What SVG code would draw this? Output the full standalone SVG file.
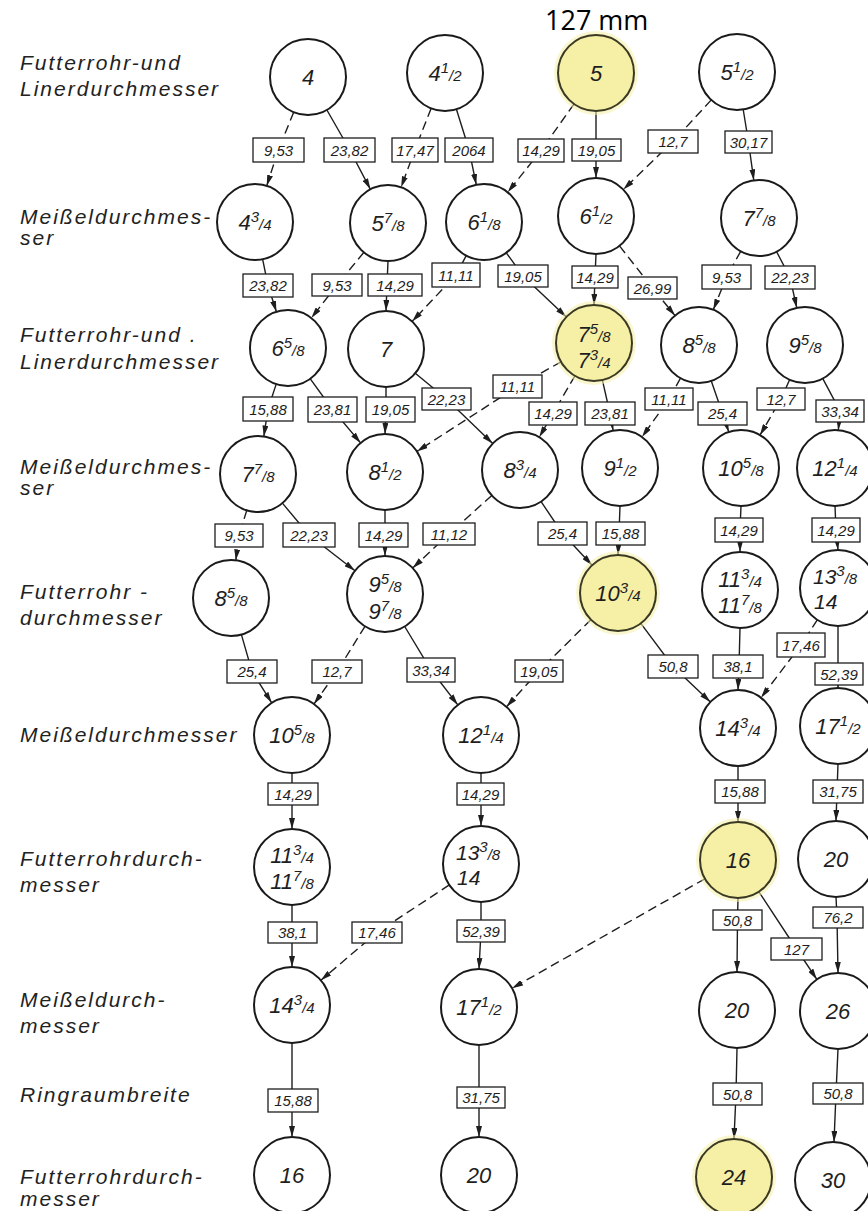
<svg xmlns="http://www.w3.org/2000/svg" width="868" height="1211" viewBox="0 0 868 1211">
<style>
.c{fill:#fff;stroke:#1a1a1a;stroke-width:2}
.cy{fill:#f6efa6;stroke:#3a3a22;stroke-width:2}
.glow{fill:#f6efa6;opacity:.55}
.nt{font-family:"Liberation Sans",Arial,sans-serif;font-style:italic;font-size:22px;fill:#1e1e1e;text-anchor:middle}
.nl{font-family:"Liberation Sans",Arial,sans-serif;font-style:italic;font-size:21px;fill:#1e1e1e}
.fn{font-size:15px}
.ln{fill:none;stroke:#1e1e1e;stroke-width:1.4;marker-end:url(#ah)}
.d{stroke-dasharray:9 5}
.bx{fill:#fff;stroke:#1e1e1e;stroke-width:1.3}
.bt{font-family:"Liberation Sans",Arial,sans-serif;font-style:italic;font-size:15px;fill:#1e1e1e;text-anchor:middle}
.lb{font-family:"Liberation Sans",Arial,sans-serif;font-style:italic;font-size:21px;fill:#222;letter-spacing:2px}
.top{font-family:"Open Sans","Liberation Sans",Arial,sans-serif;font-size:27px;fill:#000}
</style>
<defs>
<marker id="ah" viewBox="0 0 11 6" refX="11" refY="3" markerWidth="11" markerHeight="6" markerUnits="userSpaceOnUse" orient="auto"><path d="M0,0 L11,3 L0,6 z" fill="#1e1e1e"/></marker>
</defs>
<rect width="868" height="1211" fill="#fff"/>
<text class="top" x="545" y="30">127 mm</text>

<g id="row-labels">
<text class="lb" x="20" y="70">Futterrohr-und</text>
<text class="lb" x="20" y="96">Linerdurchmesser</text>
<text class="lb" x="20" y="224">Meißeldurchmes-</text>
<text class="lb" x="20" y="245">ser</text>
<text class="lb" x="20" y="342">Futterrohr-und .</text>
<text class="lb" x="20" y="369">Linerdurchmesser</text>
<text class="lb" x="20" y="474">Meißeldurchmes-</text>
<text class="lb" x="20" y="495">ser</text>
<text class="lb" x="20" y="599">Futterrohr -</text>
<text class="lb" x="20" y="625">durchmesser</text>
<text class="lb" x="20" y="742">Meißeldurchmesser</text>
<text class="lb" x="20" y="866">Futterrohrdurch-</text>
<text class="lb" x="20" y="892">messer</text>
<text class="lb" x="20" y="1007">Meißeldurch-</text>
<text class="lb" x="20" y="1033">messer</text>
<text class="lb" x="20" y="1102">Ringraumbreite</text>
<text class="lb" x="20" y="1184">Futterrohrdurch-</text>
<text class="lb" x="20" y="1206">messer</text>
</g>

<g id="connectors">
<path class="ln d" d="M293.7 112.2 L278.5 149.5 L266.7 185.9"/>
<path class="ln" d="M326.9 110 L349.5 149.5 L370.4 189.3"/>
<path class="ln d" d="M431.1 108.4 L415 149.5 L401.1 187.3"/>
<path class="ln" d="M456.4 109.3 L469 149.5 L476.3 184.8"/>
<path class="ln d" d="M574 104 L541 150.5 L507.7 192.3"/>
<path class="ln" d="M596 111 L596 178"/>
<path class="ln d" d="M711.3 99.9 L673 141.5 L623.3 189.6"/>
<path class="ln" d="M743.2 109.5 L748.5 142 L753.8 180.3"/>
<path class="ln" d="M262.6 259.2 L268 285.5 L276.4 311.8"/>
<path class="ln d" d="M363.9 252.3 L337 285 L311.3 318"/>
<path class="ln" d="M388 261 L387 285 L386 311"/>
<path class="ln d" d="M466.2 255.6 L456 275 L412.1 321.4"/>
<path class="ln" d="M506.3 252.8 L523 276 L566.4 316.9"/>
<path class="ln" d="M596 254 L595 277 L594 305"/>
<path class="ln d" d="M619.5 245.9 L652.5 288 L675 315.6"/>
<path class="ln d" d="M740.7 251.3 L726.5 277 L713.3 309.8"/>
<path class="ln" d="M776.6 251.7 L790 277.5 L796.8 307.9"/>
<path class="ln" d="M276.2 384.1 L268 409 L263.8 436.5"/>
<path class="ln" d="M310.3 378.8 L332.5 409.5 L360.6 442.9"/>
<path class="ln" d="M386 387 L386 409.5 L385 434"/>
<path class="ln" d="M415.3 373.2 L446.5 399 L492.7 443.6"/>
<path class="ln d" d="M561 361.8 L517.5 386.5 L416.9 451.4"/>
<path class="ln d" d="M574.9 375.8 L553 413.5 L539.2 437.2"/>
<path class="ln" d="M602.4 380.1 L610 413.5 L613.1 430.6"/>
<path class="ln d" d="M680.5 378.2 L669 399 L642 437"/>
<path class="ln" d="M711.3 381 L722.5 413.5 L728.8 432.1"/>
<path class="ln d" d="M789.6 379.7 L781 399 L760 435.1"/>
<path class="ln" d="M822.8 378.6 L840 411 L838.3 430.2"/>
<path class="ln d" d="M246.8 510.3 L239 535.5 L235.8 560.3"/>
<path class="ln" d="M282.4 503.1 L309 535 L355 570.7"/>
<path class="ln" d="M385 510 L385 535 L385 556"/>
<path class="ln d" d="M491.8 495.4 L449 534 L412.7 568"/>
<path class="ln" d="M541.1 501.6 L562.5 533.5 L592.1 565.2"/>
<path class="ln" d="M620 506 L619 533.5 L618 555"/>
<path class="ln" d="M741 506 L740 530 L740 552"/>
<path class="ln" d="M835 506 L836 530 L838 550"/>
<path class="ln" d="M241.4 634.6 L252 671.5 L271.7 702.8"/>
<path class="ln d" d="M365 626.3 L337 671.5 L314 704"/>
<path class="ln" d="M404.7 626.5 L431 670 L457.8 704.9"/>
<path class="ln d" d="M590.9 619.7 L539 671 L506.5 706.8"/>
<path class="ln" d="M640.8 623.4 L673 666.5 L710.4 701.9"/>
<path class="ln" d="M740 628 L739 666.5 L738 690"/>
<path class="ln d" d="M817.3 619.8 L801 645 L761 697.7"/>
<path class="ln" d="M838 626 L838 674 L838 688"/>
<path class="ln" d="M292 773 L292 829"/>
<path class="ln" d="M481 773 L481 826"/>
<path class="ln" d="M738 766 L738 822"/>
<path class="ln" d="M838 764 L837 791.5 L836 821"/>
<path class="ln" d="M292 905 L292 967"/>
<path class="ln d" d="M449.3 884.9 L377 932.5 L320.9 980.3"/>
<path class="ln" d="M481 902 L481 931 L479 969"/>
<path class="ln d" d="M704.9 878.8 L512.1 988.2"/>
<path class="ln" d="M738 898 L737.5 920 L737 972"/>
<path class="ln" d="M758.9 891.8 L796.5 949 L816.9 979.4"/>
<path class="ln" d="M836 897 L837 917.5 L838 973"/>
<path class="ln" d="M292 1043 L292 1137"/>
<path class="ln" d="M479 1045 L479 1137"/>
<path class="ln" d="M737 1048 L736 1094 L734 1139"/>
<path class="ln" d="M838 1049 L836 1093.5 L834 1142"/>
</g>

<g id="connector-labels">
<rect class="bx" x="253" y="138" width="51" height="24"/><text class="bt" x="278.5" y="155.5">9,53</text>
<rect class="bx" x="324" y="138" width="51" height="24"/><text class="bt" x="349.5" y="155.5">23,82</text>
<rect class="bx" x="392" y="138" width="46" height="24"/><text class="bt" x="415" y="155.5">17,47</text>
<rect class="bx" x="445" y="138" width="48" height="24"/><text class="bt" x="469" y="155.5">2064</text>
<rect class="bx" x="518" y="139" width="46" height="23"/><text class="bt" x="541" y="156">14,29</text>
<rect class="bx" x="572" y="139" width="49" height="22"/><text class="bt" x="596.5" y="155.5">19,05</text>
<rect class="bx" x="648" y="130" width="50" height="23"/><text class="bt" x="673" y="147">12,7</text>
<rect class="bx" x="725" y="131" width="47" height="22"/><text class="bt" x="748.5" y="147.5">30,17</text>

<rect class="bx" x="243" y="274" width="50" height="23"/><text class="bt" x="268" y="291">23,82</text>
<rect class="bx" x="312" y="274" width="50" height="22"/><text class="bt" x="337" y="290.5">9,53</text>
<rect class="bx" x="368" y="274" width="54" height="22"/><text class="bt" x="395" y="290.5">14,29</text>
<rect class="bx" x="432" y="263" width="48" height="24"/><text class="bt" x="456" y="280.5">11,11</text>
<rect class="bx" x="498" y="265" width="50" height="22"/><text class="bt" x="523" y="281.5">19,05</text>
<rect class="bx" x="572" y="266" width="46" height="22"/><text class="bt" x="595" y="282.5">14,29</text>
<rect class="bx" x="628" y="277" width="49" height="22"/><text class="bt" x="652.5" y="293.5">26,99</text>
<rect class="bx" x="702" y="265" width="49" height="24"/><text class="bt" x="726.5" y="282.5">9,53</text>
<rect class="bx" x="765" y="266" width="50" height="23"/><text class="bt" x="790" y="283">22,23</text>

<rect class="bx" x="243" y="397" width="50" height="24"/><text class="bt" x="268" y="414.5">15,88</text>
<rect class="bx" x="308" y="397" width="49" height="25"/><text class="bt" x="332.5" y="415">23,81</text>
<rect class="bx" x="366" y="397" width="49" height="25"/><text class="bt" x="390.5" y="415">19,05</text>
<rect class="bx" x="422" y="388" width="49" height="22"/><text class="bt" x="446.5" y="404.5">22,23</text>
<rect class="bx" x="493" y="375" width="49" height="23"/><text class="bt" x="517.5" y="392">11,11</text>
<rect class="bx" x="529" y="402" width="48" height="23"/><text class="bt" x="553" y="419">14,29</text>
<rect class="bx" x="585" y="402" width="50" height="23"/><text class="bt" x="610" y="419">23,81</text>
<rect class="bx" x="645" y="388" width="48" height="22"/><text class="bt" x="669" y="404.5">11,11</text>
<rect class="bx" x="698" y="402" width="49" height="23"/><text class="bt" x="722.5" y="419">25,4</text>
<rect class="bx" x="757" y="388" width="48" height="22"/><text class="bt" x="781" y="404.5">12,7</text>
<rect class="bx" x="816" y="400" width="48" height="22"/><text class="bt" x="840" y="416.5">33,34</text>

<rect class="bx" x="215" y="524" width="48" height="23"/><text class="bt" x="239" y="541">9,53</text>
<rect class="bx" x="283" y="523" width="52" height="24"/><text class="bt" x="309" y="540.5">22,23</text>
<rect class="bx" x="359" y="523" width="49" height="24"/><text class="bt" x="383.5" y="540.5">14,29</text>
<rect class="bx" x="423" y="523" width="52" height="22"/><text class="bt" x="449" y="539.5">11,12</text>
<rect class="bx" x="538" y="522" width="49" height="23"/><text class="bt" x="562.5" y="539">25,4</text>
<rect class="bx" x="596" y="522" width="49" height="23"/><text class="bt" x="620.5" y="539">15,88</text>
<rect class="bx" x="715" y="518" width="48" height="24"/><text class="bt" x="739" y="535.5">14,29</text>
<rect class="bx" x="812" y="518" width="48" height="24"/><text class="bt" x="836" y="535.5">14,29</text>

<rect class="bx" x="227" y="660" width="50" height="23"/><text class="bt" x="252" y="677">25,4</text>
<rect class="bx" x="312" y="660" width="50" height="23"/><text class="bt" x="337" y="677">12,7</text>
<rect class="bx" x="407" y="658" width="48" height="24"/><text class="bt" x="431" y="675.5">33,34</text>
<rect class="bx" x="515" y="660" width="48" height="22"/><text class="bt" x="539" y="676.5">19,05</text>
<rect class="bx" x="648" y="655" width="50" height="23"/><text class="bt" x="673" y="672">50,8</text>
<rect class="bx" x="713" y="655" width="50" height="23"/><text class="bt" x="738" y="672">38,1</text>
<rect class="bx" x="777" y="633" width="48" height="24"/><text class="bt" x="801" y="650.5">17,46</text>
<rect class="bx" x="815" y="663" width="48" height="22"/><text class="bt" x="839" y="679.5">52,39</text>

<rect class="bx" x="268" y="783" width="50" height="22"/><text class="bt" x="293" y="799.5">14,29</text>
<rect class="bx" x="457" y="783" width="47" height="22"/><text class="bt" x="480.5" y="799.5">14,29</text>
<rect class="bx" x="715" y="780" width="50" height="23"/><text class="bt" x="740" y="797">15,88</text>
<rect class="bx" x="813" y="780" width="50" height="23"/><text class="bt" x="838" y="797">31,75</text>

<rect class="bx" x="268" y="922" width="49" height="21"/><text class="bt" x="292.5" y="938">38,1</text>
<rect class="bx" x="352" y="922" width="50" height="21"/><text class="bt" x="377" y="938">17,46</text>
<rect class="bx" x="457" y="920" width="48" height="22"/><text class="bt" x="481" y="936.5">52,39</text>
<rect class="bx" x="713" y="910" width="49" height="20"/><text class="bt" x="737.5" y="925.5">50,8</text>
<rect class="bx" x="771" y="938" width="51" height="22"/><text class="bt" x="796.5" y="954.5">127</text>
<rect class="bx" x="813" y="907" width="50" height="21"/><text class="bt" x="838" y="923">76,2</text>

<rect class="bx" x="268" y="1089" width="50" height="23"/><text class="bt" x="293" y="1106">15,88</text>
<rect class="bx" x="457" y="1087" width="48" height="21"/><text class="bt" x="481" y="1103">31,75</text>
<rect class="bx" x="713" y="1083" width="49" height="22"/><text class="bt" x="737.5" y="1099.5">50,8</text>
<rect class="bx" x="813" y="1083" width="50" height="21"/><text class="bt" x="838" y="1099">50,8</text>
</g>

<g id="n-r1-4"><circle class="c" cx="308" cy="77" r="38"/><text class="nt" x="308" y="85">4</text></g>
<g id="n-r1-4-1-2"><circle class="c" cx="445" cy="73" r="38"/><text class="nt" x="445" y="81">4<tspan class="fn" dy="-8">1</tspan><tspan class="fn" dy="8">/2</tspan></text></g>
<g id="n-r1-5"><circle class="glow" cx="596" cy="73" r="42"/><circle class="cy" cx="596" cy="73" r="38"/><text class="nt" x="596" y="81">5</text></g>
<g id="n-r1-5-1-2"><circle class="c" cx="737" cy="72" r="38"/><text class="nt" x="737" y="80">5<tspan class="fn" dy="-8">1</tspan><tspan class="fn" dy="8">/2</tspan></text></g>

<g id="n-r2-4-3-4"><circle class="c" cx="255" cy="222" r="38"/><text class="nt" x="255" y="230">4<tspan class="fn" dy="-8">3</tspan><tspan class="fn" dy="8">/4</tspan></text></g>
<g id="n-r2-5-7-8"><circle class="c" cx="388" cy="223" r="38"/><text class="nt" x="388" y="231">5<tspan class="fn" dy="-8">7</tspan><tspan class="fn" dy="8">/8</tspan></text></g>
<g id="n-r2-6-1-8"><circle class="c" cx="484" cy="222" r="38"/><text class="nt" x="484" y="230">6<tspan class="fn" dy="-8">1</tspan><tspan class="fn" dy="8">/8</tspan></text></g>
<g id="n-r2-6-1-2"><circle class="c" cx="596" cy="216" r="38"/><text class="nt" x="596" y="224">6<tspan class="fn" dy="-8">1</tspan><tspan class="fn" dy="8">/2</tspan></text></g>
<g id="n-r2-7-7-8"><circle class="c" cx="759" cy="218" r="38"/><text class="nt" x="759" y="226">7<tspan class="fn" dy="-8">7</tspan><tspan class="fn" dy="8">/8</tspan></text></g>

<g id="n-r3-6-5-8"><circle class="c" cx="288" cy="348" r="38"/><text class="nt" x="288" y="356">6<tspan class="fn" dy="-8">5</tspan><tspan class="fn" dy="8">/8</tspan></text></g>
<g id="n-r3-7"><circle class="c" cx="386" cy="349" r="38"/><text class="nt" x="386" y="357">7</text></g>
<g id="n-r3-7-5-8"><circle class="glow" cx="594" cy="343" r="42"/><circle class="cy" cx="594" cy="343" r="38"/><text class="nt" x="594" y="342">7<tspan class="fn" dy="-8">5</tspan><tspan class="fn" dy="8">/8</tspan></text><text class="nt" x="594" y="368">7<tspan class="fn" dy="-8">3</tspan><tspan class="fn" dy="8">/4</tspan></text></g>
<g id="n-r3-8-5-8"><circle class="c" cx="699" cy="345" r="38"/><text class="nt" x="699" y="353">8<tspan class="fn" dy="-8">5</tspan><tspan class="fn" dy="8">/8</tspan></text></g>
<g id="n-r3-9-5-8"><circle class="c" cx="805" cy="345" r="38"/><text class="nt" x="805" y="353">9<tspan class="fn" dy="-8">5</tspan><tspan class="fn" dy="8">/8</tspan></text></g>

<g id="n-r4-7-7-8"><circle class="c" cx="258" cy="474" r="38"/><text class="nt" x="258" y="482">7<tspan class="fn" dy="-8">7</tspan><tspan class="fn" dy="8">/8</tspan></text></g>
<g id="n-r4-8-1-2"><circle class="c" cx="385" cy="472" r="38"/><text class="nt" x="385" y="480">8<tspan class="fn" dy="-8">1</tspan><tspan class="fn" dy="8">/2</tspan></text></g>
<g id="n-r4-8-3-4"><circle class="c" cx="520" cy="470" r="38"/><text class="nt" x="520" y="478">8<tspan class="fn" dy="-8">3</tspan><tspan class="fn" dy="8">/4</tspan></text></g>
<g id="n-r4-9-1-2"><circle class="c" cx="620" cy="468" r="38"/><text class="nt" x="620" y="476">9<tspan class="fn" dy="-8">1</tspan><tspan class="fn" dy="8">/2</tspan></text></g>
<g id="n-r4-10-5-8"><circle class="c" cx="741" cy="468" r="38"/><text class="nt" x="741" y="476">10<tspan class="fn" dy="-8">5</tspan><tspan class="fn" dy="8">/8</tspan></text></g>
<g id="n-r4-12-1-4"><circle class="c" cx="835" cy="468" r="38"/><text class="nt" x="835" y="476">12<tspan class="fn" dy="-8">1</tspan><tspan class="fn" dy="8">/4</tspan></text></g>

<g id="n-r5-8-5-8"><circle class="c" cx="231" cy="598" r="38"/><text class="nt" x="231" y="606">8<tspan class="fn" dy="-8">5</tspan><tspan class="fn" dy="8">/8</tspan></text></g>
<g id="n-r5-9-5-8"><circle class="c" cx="385" cy="594" r="38"/><text class="nt" x="385" y="592">9<tspan class="fn" dy="-8">5</tspan><tspan class="fn" dy="8">/8</tspan></text><text class="nt" x="385" y="619">9<tspan class="fn" dy="-8">7</tspan><tspan class="fn" dy="8">/8</tspan></text></g>
<g id="n-r5-10-3-4"><circle class="glow" cx="618" cy="593" r="42"/><circle class="cy" cx="618" cy="593" r="38"/><text class="nt" x="618" y="601">10<tspan class="fn" dy="-8">3</tspan><tspan class="fn" dy="8">/4</tspan></text></g>
<g id="n-r5-11-3-4"><circle class="c" cx="740" cy="590" r="38"/><text class="nt" x="740" y="587">11<tspan class="fn" dy="-8">3</tspan><tspan class="fn" dy="8">/4</tspan></text><text class="nt" x="740" y="613">11<tspan class="fn" dy="-8">7</tspan><tspan class="fn" dy="8">/8</tspan></text></g>
<g id="n-r5-13-3-8"><circle class="c" cx="838" cy="588" r="38"/><text class="nl" x="813" y="584">13<tspan class="fn" dy="-8">3</tspan><tspan class="fn" dy="8">/8</tspan></text><text class="nl" x="814" y="609">14</text></g>

<g id="n-r6-10-5-8"><circle class="c" cx="292" cy="735" r="38"/><text class="nt" x="292" y="743">10<tspan class="fn" dy="-8">5</tspan><tspan class="fn" dy="8">/8</tspan></text></g>
<g id="n-r6-12-1-4"><circle class="c" cx="481" cy="735" r="38"/><text class="nt" x="481" y="743">12<tspan class="fn" dy="-8">1</tspan><tspan class="fn" dy="8">/4</tspan></text></g>
<g id="n-r6-14-3-4"><circle class="c" cx="738" cy="728" r="38"/><text class="nt" x="738" y="736">14<tspan class="fn" dy="-8">3</tspan><tspan class="fn" dy="8">/4</tspan></text></g>
<g id="n-r6-17-1-2"><circle class="c" cx="838" cy="726" r="38"/><text class="nt" x="838" y="734">17<tspan class="fn" dy="-8">1</tspan><tspan class="fn" dy="8">/2</tspan></text></g>

<g id="n-r7-11-3-4"><circle class="c" cx="292" cy="867" r="38"/><text class="nt" x="292" y="863">11<tspan class="fn" dy="-8">3</tspan><tspan class="fn" dy="8">/4</tspan></text><text class="nt" x="292" y="889">11<tspan class="fn" dy="-8">7</tspan><tspan class="fn" dy="8">/8</tspan></text></g>
<g id="n-r7-13-3-8"><circle class="c" cx="481" cy="864" r="38"/><text class="nl" x="456" y="860">13<tspan class="fn" dy="-8">3</tspan><tspan class="fn" dy="8">/8</tspan></text><text class="nl" x="457" y="885">14</text></g>
<g id="n-r7-16"><circle class="glow" cx="738" cy="860" r="42"/><circle class="cy" cx="738" cy="860" r="38"/><text class="nt" x="738" y="868">16</text></g>
<g id="n-r7-20"><circle class="c" cx="836" cy="859" r="38"/><text class="nt" x="836" y="867">20</text></g>

<g id="n-r8-14-3-4"><circle class="c" cx="292" cy="1005" r="38"/><text class="nt" x="292" y="1013">14<tspan class="fn" dy="-8">3</tspan><tspan class="fn" dy="8">/4</tspan></text></g>
<g id="n-r8-17-1-2"><circle class="c" cx="479" cy="1007" r="38"/><text class="nt" x="479" y="1015">17<tspan class="fn" dy="-8">1</tspan><tspan class="fn" dy="8">/2</tspan></text></g>
<g id="n-r8-20"><circle class="c" cx="737" cy="1010" r="38"/><text class="nt" x="737" y="1018">20</text></g>
<g id="n-r8-26"><circle class="c" cx="838" cy="1011" r="38"/><text class="nt" x="838" y="1019">26</text></g>

<g id="n-r9-16"><circle class="c" cx="292" cy="1175" r="38"/><text class="nt" x="292" y="1183">16</text></g>
<g id="n-r9-20"><circle class="c" cx="479" cy="1175" r="38"/><text class="nt" x="479" y="1183">20</text></g>
<g id="n-r9-24"><circle class="glow" cx="734" cy="1177" r="42"/><circle class="cy" cx="734" cy="1177" r="38"/><text class="nt" x="734" y="1185">24</text></g>
<g id="n-r9-30"><circle class="c" cx="833" cy="1180" r="38"/><text class="nt" x="833" y="1188">30</text></g>
</svg>
